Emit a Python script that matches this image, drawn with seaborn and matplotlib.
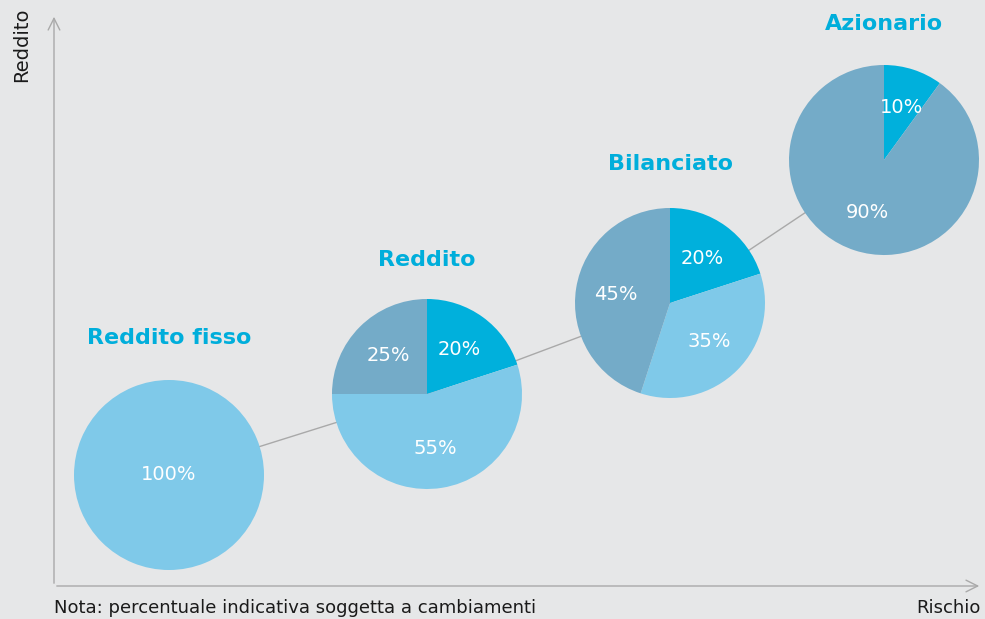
import numpy as np
import pandas as pd
import seaborn as sns
import matplotlib.pyplot as plt

# portfolio mix per profile (percent)
profiles = ["Reddito fisso", "Reddito", "Bilanciato", "Azionario"]
azioni = [0, 20, 20, 10]
obbligazioni = [100, 55, 35, 0]
altro = [0, 25, 45, 90]

# layout, in pixels from the top-left corner
pie_x = [169, 427, 670, 884]
pie_y = [475, 394, 303, 160]
title_y = [338, 260, 164, 24]
R = 95

W, H = 985, 619
bg = "#e6e7e8"
colors = ["#00b0dc", "#7fc9e9", "#74abc8"]

sns.set_theme(style="white")
plt.rcParams["font.family"] = ["DejaVu Sans"]

fig = plt.figure(figsize=(W / 100, H / 100), dpi=100, facecolor=bg)
ax = fig.add_axes([0, 0, 1, 1])
ax.set_facecolor(bg)

# connecting line behind the pies
line_df = pd.DataFrame({"x": pie_x, "y": [H - v for v in pie_y]})
sns.lineplot(data=line_df, x="x", y="y", sort=False, color="#a9a9a9", lw=1, ax=ax, zorder=1)

for i, name in enumerate(profiles):
    vals = [azioni[i], obbligazioni[i], altro[i]]
    v = [x for x in vals if x > 0]
    c = [colors[k] for k, x in enumerate(vals) if x > 0]
    ax.pie(v, colors=c, startangle=90, counterclock=False,
           center=(pie_x[i], H - pie_y[i]), radius=R,
           autopct=lambda p: f"{p:.0f}%",
           pctdistance=0 if len(v) == 1 else 0.58,
           textprops=dict(color="white", fontsize=14),
           wedgeprops=dict(linewidth=0, zorder=2), frame=True)
    ax.text(pie_x[i], H - title_y[i], name, ha="center", va="center",
            fontsize=16, fontweight="bold", color="#00aedb")

# axes arrows (open chevron heads)
arrow = dict(arrowstyle="->,head_length=0.7,head_width=0.35", color="#a9a9a9", lw=1)
ax.annotate("", xy=(54, H - 14), xytext=(54, H - 586), arrowprops=arrow)
ax.annotate("", xy=(982, H - 586), xytext=(54, H - 586), arrowprops=arrow)

ax.text(22, H - 45, "Reddito", rotation=90, ha="center", va="center", fontsize=14, color="#1a1a1a")
ax.text(54, H - 608, "Nota: percentuale indicativa soggetta a cambiamenti",
        ha="left", va="center", fontsize=13, color="#1a1a1a")
ax.text(981, H - 608, "Rischio", ha="right", va="center", fontsize=13, color="#1a1a1a")

ax.set_xlim(0, W)
ax.set_ylim(0, H)
ax.set_aspect("equal")
ax.axis("off")

fig.savefig("out.png", dpi=100, facecolor=bg)
